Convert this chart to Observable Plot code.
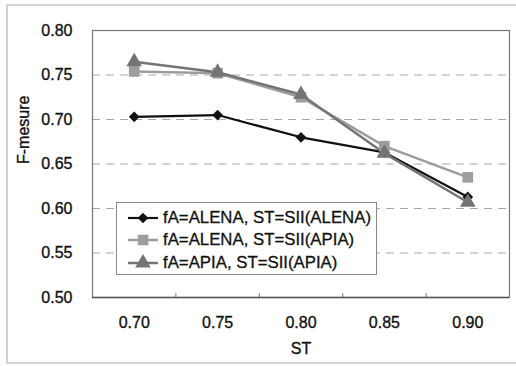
<!DOCTYPE html>
<html><head>
<meta charset="utf-8">
<script src="https://cdn.jsdelivr.net/npm/d3@7"></script>
<script src="https://cdn.jsdelivr.net/npm/@observablehq/plot@0.6"></script>
<style>
body{margin:0;background:#fff;}
#wrap{position:relative;width:516px;height:366px;overflow:hidden;font-family:"Liberation Sans",Arial,sans-serif;color:#111;}
#wrap svg text{stroke:#111;stroke-width:0.35px;}
#outer{position:absolute;left:6px;top:4px;width:700px;height:356px;border:2px solid #d2d2d2;border-right:none;pointer-events:none;}
#legend{position:absolute;left:116px;top:202px;width:259px;height:71px;border:1px solid #888;background:#fff;}
.row{position:absolute;left:0;height:22px;}
.row svg{position:absolute;left:11px;top:0;}
.row span{position:absolute;left:46px;top:0;line-height:22px;font-size:16.8px;white-space:nowrap;-webkit-text-stroke:0.3px #111;}
</style>
</head><body>
<div id="wrap"><div id="outer"></div></div>
<script>
const st = [0.70, 0.75, 0.80, 0.85, 0.90];
const seriesNames = ["fA=ALENA, ST=SII(ALENA)", "fA=ALENA, ST=SII(APIA)", "fA=APIA, ST=SII(APIA)"];
const alenaAlena = [0.703, 0.705, 0.680, 0.663, 0.613];
const alenaApia  = [0.754, 0.752, 0.725, 0.670, 0.635];
const apiaApia   = [0.765, 0.753, 0.728, 0.662, 0.607];
const yTicks = [0.50, 0.55, 0.60, 0.65, 0.70, 0.75, 0.80];
const gridTicks = [0.55, 0.60, 0.65, 0.70, 0.75];

const seriesValues = [alenaAlena, alenaApia, apiaApia];
const colors = ["#111111", "#9d9d9d", "#747474"];
const symbols = ["diamond2", "square", "triangle"];
const radii = [4.8, 6.0, 5.8];
const widths = [2.2, 2.5, 2.5];

const data = seriesValues.map((v, i) => v.map((f, j) => ({series: seriesNames[i], st: st[j], f})));
const bounds = d3.pairs(st).map(([a, b]) => (a + b) / 2);
const half = (st[1] - st[0]) / 2;
const fmt = d => d.toFixed(2);

const marks = [
  Plot.ruleY(gridTicks, {stroke: "#a8a8a8", strokeWidth: 1, strokeDasharray: "8,6"}),
  Plot.ruleX(bounds, {stroke: "#777", strokeWidth: 1, insetTop: 263}),
  Plot.frame({stroke: "#777", strokeWidth: 1.2}),
  Plot.ruleY([0.5], {stroke: "#555", strokeWidth: 1.5}),
  Plot.axisX({ticks: st, tickSize: 0, tickPadding: 19, tickFormat: fmt, label: null, fontSize: 16, fill: "#111"}),
  Plot.axisY({ticks: yTicks, tickSize: 0, tickPadding: 20, tickFormat: fmt, label: null, fontSize: 16, fill: "#111"}),
  Plot.text(["ST"], {frameAnchor: "bottom", dy: 51, lineAnchor: "middle", fontSize: 16, fill: "#111"}),
  Plot.text(["F-mesure"], {frameAnchor: "left", dx: -69, rotate: -90, fontSize: 16, fill: "#111"})
];
data.forEach((d, i) => {
  marks.push(Plot.line(d, {x: "st", y: "f", stroke: colors[i], strokeWidth: widths[i]}));
});
data.forEach((d, i) => {
  marks.push(Plot.dot(d, {x: "st", y: "f", symbol: () => symbols[i], fill: colors[i], stroke: "none", r: radii[i]}));
});

const chart = Plot.plot({
  width: 516, height: 366,
  marginLeft: 92, marginRight: 7, marginTop: 30, marginBottom: 69,
  style: {fontFamily: '"Liberation Sans", Arial, sans-serif', fontSize: "16px", background: "transparent", color: "#111"},
  x: {domain: [st[0] - half, st[st.length - 1] + half]},
  y: {domain: [0.5, 0.8]},
  symbol: {domain: symbols, range: symbols},
  marks
});
const wrap = document.getElementById("wrap");
wrap.insertBefore(chart, wrap.firstChild);

const legend = document.createElement("div");
legend.id = "legend";
const symMap = {diamond2: d3.symbolDiamond2, square: d3.symbolSquare, triangle: d3.symbolTriangle};
seriesNames.forEach((name, i) => {
  const row = document.createElement("div");
  row.className = "row";
  row.style.top = (3.5 + i * 22.5) + "px";
  row.style.width = "259px";
  const svg = d3.create("svg").attr("width", 30).attr("height", 22);
  svg.append("line").attr("x1", 0).attr("x2", 30).attr("y1", 11).attr("y2", 11)
    .attr("stroke", colors[i]).attr("stroke-width", widths[i]);
  svg.append("path").attr("transform", "translate(15,11)")
    .attr("d", d3.symbol(symMap[symbols[i]], Math.PI * radii[i] * radii[i])())
    .attr("fill", colors[i]);
  row.appendChild(svg.node());
  const span = document.createElement("span");
  span.textContent = name;
  row.appendChild(span);
  legend.appendChild(row);
});
wrap.appendChild(legend);
</script>
</body></html>
